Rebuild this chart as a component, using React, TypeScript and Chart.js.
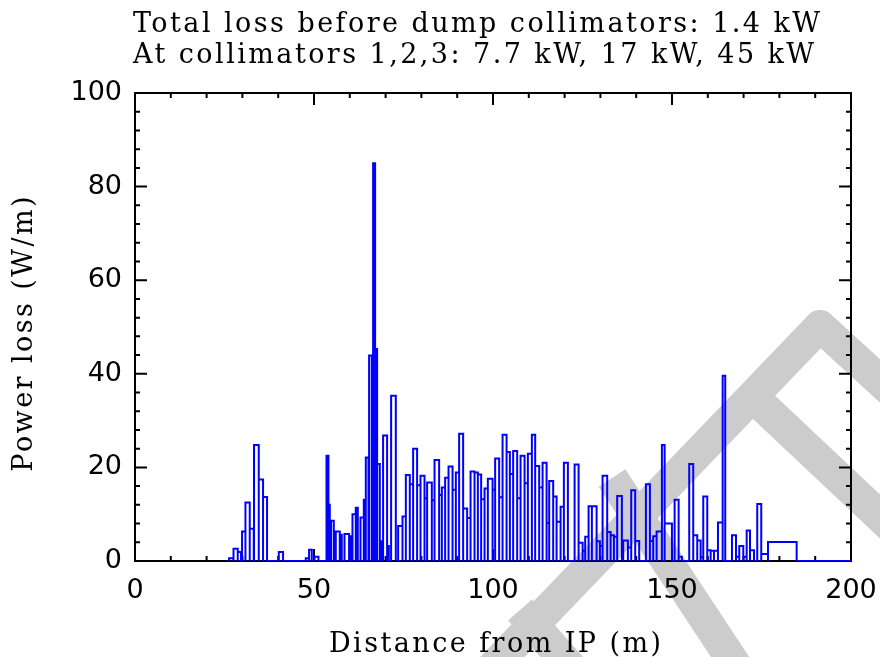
import React, { useEffect, useRef } from "react";
import { Chart, registerables } from "chart.js";
Chart.register(...registerables);

const TITLE_LINES = [
  "Total loss before dump collimators: 1.4 kW",
  "At collimators 1,2,3: 7.7 kW, 17 kW, 45 kW",
];
const X_TITLE = "Distance from IP (m)";
const Y_TITLE = "Power loss (W/m)";
const X_MIN = 0;
const X_MAX = 200;
const Y_MIN = 0;
const Y_MAX = 100;
const X_STEP = 50;
const Y_STEP = 20;
const X_MINOR = 10;
const Y_MINOR = 4;

// element start (m), element end (m), loss (W/m)
const BIN_START = [
  26.27, 27.58, 28.7, 29.9, 30.85, 32.05, 33.25, 34.57, 35.77, 40.16,
  47.7, 48.62, 50.13, 53.49, 54.04, 54.41, 54.77, 56.08, 57.2, 58.52,
  59.8, 60.75, 61.67, 62.99, 63.91, 64.47, 65.39, 66.51, 67.07, 67.63,
  68.38, 69.3, 70.42, 71.54, 73.5, 74.72, 75.65, 76.76, 77.69, 78.8,
  79.75, 80.87, 81.6, 82.91, 83.67, 84.95, 85.71, 86.63, 87.58, 88.7,
  89.62, 90.54, 91.66, 92.78, 93.73, 94.84, 95.77, 96.69, 97.64, 98.56,
  99.88, 100.6, 101.72, 102.67, 103.79, 104.71, 105.63, 106.75, 107.7, 108.82,
  109.74, 110.86, 111.78, 112.9, 113.85, 114.97, 115.7, 116.81, 117.76, 118.88,
  119.8, 122.79, 123.91, 125.03, 125.75, 126.7, 127.62, 128.94, 129.86, 130.61,
  131.9, 132.85, 133.77, 134.69, 136.0, 136.37, 137.68, 138.61, 139.72, 142.71,
  143.83, 144.75, 145.7, 147.18, 147.94, 150.73, 151.85, 154.81, 155.93, 157.05,
  158.0, 158.73, 159.85, 160.8, 161.72, 162.84, 164.15, 166.75, 167.87, 168.79,
  169.91, 170.86, 171.78, 173.81, 174.93, 176.81,
];
const BIN_END = [
  27.39, 28.7, 29.62, 30.85, 32.05, 33.17, 34.57, 35.77, 36.89, 41.36,
  48.62, 49.38, 51.25, 54.04, 54.41, 54.77, 55.53, 57.2, 57.76, 59.8,
  60.28, 61.67, 62.23, 63.91, 64.47, 65.22, 66.14, 67.07, 67.63, 68.38,
  68.74, 70.42, 70.9, 72.85, 74.72, 75.65, 76.76, 77.69, 78.8, 79.75,
  80.87, 81.6, 82.91, 83.67, 84.95, 85.71, 86.63, 87.58, 88.7, 89.62,
  90.54, 91.66, 92.78, 93.73, 94.84, 95.77, 96.69, 97.64, 98.56, 99.88,
  100.6, 101.72, 102.67, 103.79, 104.71, 105.63, 106.75, 107.7, 108.82, 109.74,
  110.86, 111.78, 112.9, 113.85, 114.97, 115.7, 116.81, 117.76, 118.88, 119.8,
  120.92, 123.91, 125.03, 125.75, 126.7, 127.62, 128.94, 129.86, 130.61, 131.9,
  132.85, 133.77, 134.69, 136.0, 136.37, 137.68, 138.61, 139.72, 140.84, 143.83,
  144.75, 145.7, 147.18, 147.94, 149.98, 151.85, 152.77, 155.93, 157.05, 158.0,
  158.73, 159.85, 160.8, 161.72, 162.84, 164.15, 164.87, 167.87, 168.79, 169.91,
  170.86, 171.78, 172.9, 174.93, 176.81, 184.82,
];
const BIN_VALUE = [
  0.6, 2.6, 1.9, 6.3, 12.5, 6.9, 24.8, 17.4, 13.7, 1.9,
  0.6, 2.4, 0.9, 22.5, 12.0, 4.2, 8.6, 6.3, 5.6, 5.75,
  5.3, 10.0, 11.4, 9.3, 13.1, 22.1, 43.9, 85.0, 45.3, 20.7,
  4.2, 26.8, 3.2, 35.3, 7.5, 9.5, 18.4, 16.4, 24.0, 16.2,
  18.2, 13.4, 16.8, 13.0, 21.6, 14.1, 15.7, 17.8, 20.2, 15.2,
  18.9, 27.2, 11.2, 9.2, 19.1, 18.9, 18.5, 13.2, 15.5, 17.6,
  15.2, 21.9, 13.6, 27.0, 23.3, 18.6, 23.5, 13.4, 22.5, 16.6,
  22.9, 27.0, 20.3, 15.7, 21.0, 8.1, 17.1, 13.8, 8.4, 11.6,
  21.0, 20.6, 3.9, 2.2, 5.2, 11.7, 11.7, 4.2, 3.2, 18.2,
  6.2, 5.5, 5.2, 13.9, 3.1, 4.4, 2.9, 15.1, 4.3, 16.4,
  4.3, 5.3, 6.3, 24.8, 8.0, 13.1, 0.9, 20.7, 5.5, 4.4,
  0.8, 13.8, 2.3, 2.2, 2.2, 8.2, 39.6, 5.5, 0.9, 3.2,
  0.9, 6.5, 2.3, 12.2, 1.5, 4.05,
];

const SERIF = '27px "DejaVu Serif"';

function buildOutline() {
  const pts: { x: number; y: number }[] = [];
  for (let i = 0; i < BIN_START.length; i++) {
    const s = BIN_START[i];
    const e = BIN_END[i];
    const v = BIN_VALUE[i];
    pts.push({ x: s, y: 0 }, { x: s, y: v }, { x: e, y: v }, { x: e, y: 0 });
  }
  pts.push({ x: X_MAX, y: 0 });
  return pts;
}

const watermarkPlugin = {
  id: "watermark",
  beforeDraw(chart: any) {
    const ctx = chart.ctx;
    ctx.save();
    ctx.strokeStyle = "#cccccc";
    ctx.lineCap = "butt";
    ctx.lineJoin = "round";
    ctx.lineWidth = 32;
    const strokes = [
      [[488, 672], [820, 326], [905, 404]],
      [[752, 396], [905, 540]],
      [[612, 478], [740, 672]],
      [[520, 610], [575, 672]],
    ];
    for (const s of strokes) {
      ctx.beginPath();
      ctx.moveTo(s[0][0], s[0][1]);
      for (let i = 1; i < s.length; i++) ctx.lineTo(s[i][0], s[i][1]);
      ctx.stroke();
    }
    ctx.restore();
  },
};

const framePlugin = {
  id: "frame",
  beforeDatasetsDraw(chart: any) {
    const { ctx, chartArea } = chart;
    const xs = chart.scales.x;
    const ys = chart.scales.y;
    const { left, right, top, bottom } = chartArea;
    ctx.save();
    ctx.strokeStyle = "#000";
    ctx.lineWidth = 2;
    ctx.strokeRect(left, top, right - left, bottom - top);
    ctx.beginPath();
    for (let v = X_MIN; v <= X_MAX + 1e-9; v += X_MINOR) {
      const px = xs.getPixelForValue(v);
      const len = v % X_STEP === 0 ? 12 : 5;
      ctx.moveTo(px, bottom);
      ctx.lineTo(px, bottom - len);
      ctx.moveTo(px, top);
      ctx.lineTo(px, top + len);
    }
    for (let v = Y_MIN; v <= Y_MAX + 1e-9; v += Y_MINOR) {
      const py = ys.getPixelForValue(v);
      const len = v % Y_STEP === 0 ? 12 : 5;
      ctx.moveTo(left, py);
      ctx.lineTo(left + len, py);
      ctx.moveTo(right, py);
      ctx.lineTo(right - len, py);
    }
    ctx.stroke();
    ctx.restore();
  },
};

const textPlugin = {
  id: "texts",
  afterDraw(chart: any) {
    const ctx = chart.ctx;
    const { left, right, top, bottom } = chart.chartArea;
    ctx.save();
    ctx.fillStyle = "#000";
    ctx.font = SERIF;
    ctx.letterSpacing = "0px";
    const w0 = ctx.measureText(TITLE_LINES[0]).width;
    const ls = Math.max(0, (687 - w0) / (TITLE_LINES[0].length - 1));
    ctx.letterSpacing = ls + "px";
    ctx.textAlign = "left";
    ctx.textBaseline = "alphabetic";
    ctx.fillText(TITLE_LINES[0], left - 2, top - 61.5);
    ctx.fillText(TITLE_LINES[1], left - 2, top - 30);
    ctx.textAlign = "center";
    ctx.fillText(X_TITLE, (left + right) / 2 + 2 + ls / 2, bottom + 90.5);
    ctx.translate(32, (top + bottom) / 2 + 7);
    ctx.rotate(-Math.PI / 2);
    ctx.fillText(Y_TITLE, ls / 2, 0);
    ctx.restore();
  },
};

export default function App() {
  const ref = useRef<HTMLCanvasElement | null>(null);
  useEffect(() => {
    if (!ref.current) return;
    const chart = new Chart(ref.current, {
      type: "line",
      data: {
        datasets: [
          {
            data: buildOutline(),
            borderColor: "#0000ff",
            borderWidth: 2,
            pointRadius: 0,
            tension: 0,
            fill: false,
            borderJoinStyle: "miter",
          } as any,
        ],
      },
      options: {
        animation: false,
        responsive: false,
        devicePixelRatio: 1,
        layout: { padding: { top: 93, right: 29, left: 0, bottom: 0 } },
        plugins: {
          legend: { display: false },
          tooltip: { enabled: false },
          title: { display: false },
        },
        scales: {
          x: {
            type: "linear",
            min: X_MIN,
            max: X_MAX,
            grid: { display: false, drawTicks: false },
            border: { display: false },
            ticks: {
              stepSize: X_STEP,
              autoSkip: false,
              maxRotation: 0,
              padding: 14,
              color: "#000",
              font: { family: "DejaVu Sans", size: 27 },
            },
            afterFit: (s: any) => {
              s.height = 96;
              s.paddingLeft = 0;
              s.paddingRight = 0;
            },
          },
          y: {
            type: "linear",
            min: Y_MIN,
            max: Y_MAX,
            grid: { display: false, drawTicks: false },
            border: { display: false },
            ticks: {
              stepSize: Y_STEP,
              padding: 13,
              color: "#000",
              font: { family: "DejaVu Sans", size: 27 },
            },
            afterFit: (s: any) => {
              s.width = 135;
              s.paddingTop = 0;
              s.paddingBottom = 0;
            },
          },
        },
      },
      plugins: [watermarkPlugin, framePlugin, textPlugin],
    });
    return () => chart.destroy();
  }, []);
  return (
    <div style={{ position: "absolute", left: 0, top: 0, width: 880, height: 657, background: "#fff" }}>
      <canvas ref={ref} width={880} height={657} />
    </div>
  );
}
